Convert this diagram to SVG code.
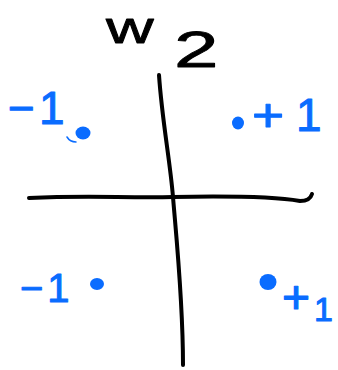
<svg xmlns="http://www.w3.org/2000/svg" width="338" height="370" viewBox="0 0 338 370">
<style>
.ax{fill:none;stroke:#000;stroke-width:4;stroke-linecap:round;stroke-linejoin:round}
.lb{font-family:"Liberation Sans","DejaVu Sans",sans-serif;fill:#0a6cff;stroke:#0a6cff;stroke-width:1;stroke-linejoin:round}
.pt{fill:#0a6cff}
.ttl{font-family:"Liberation Sans","DejaVu Sans",sans-serif;fill:#000;stroke:#000;stroke-width:0.8;stroke-linejoin:round}
</style>
<rect width="338" height="370" fill="#fff"/>
<g id="axes">
<path class="ax" d="M29,198 C90,195 120,198 173,197 S270,196 300,201 Q310,201 312,194"/>
<path class="ax" d="M159,75 C162,120 170,160 173,197 S183,300 183,365"/>
</g>
<g id="title">
<text class="ttl" transform="translate(106,43) scale(1.5,1)" x="0" y="0" font-size="44">w</text>
<text class="ttl" transform="translate(174,67) scale(1.6,1)" x="0" y="0" font-size="50">2</text>
</g>
<g id="q-top-left">
<text class="lb" x="8" y="124" font-size="46">−<tspan dx="4">1</tspan></text>
<path d="M67,137 Q70,142 76,142" fill="none" stroke="#0a6cff" stroke-width="1.5" stroke-linecap="round"/>
<ellipse class="pt" cx="83" cy="133" rx="7.5" ry="6.5"/>
</g>
<g id="q-top-right">
<ellipse class="pt" cx="238" cy="123" rx="6" ry="6.5"/>
<text class="lb" transform="translate(252,131) scale(1.2,1)" x="0" y="0" font-size="46">+</text>
<text class="lb" x="296" y="131" font-size="46">1</text>
</g>
<g id="q-bottom-left">
<text class="lb" x="20" y="302" font-size="40">−<tspan dx="4">1</tspan></text>
<ellipse class="pt" cx="97" cy="284" rx="7" ry="6"/>
</g>
<g id="q-bottom-right">
<ellipse class="pt" cx="268" cy="282" rx="8.5" ry="8"/>
<text class="lb" transform="translate(282,313) scale(1.2,1.15)" x="0" y="0" font-size="40">+</text>
<text class="lb" x="314" y="321" font-size="34">1</text>
</g>
</svg>
